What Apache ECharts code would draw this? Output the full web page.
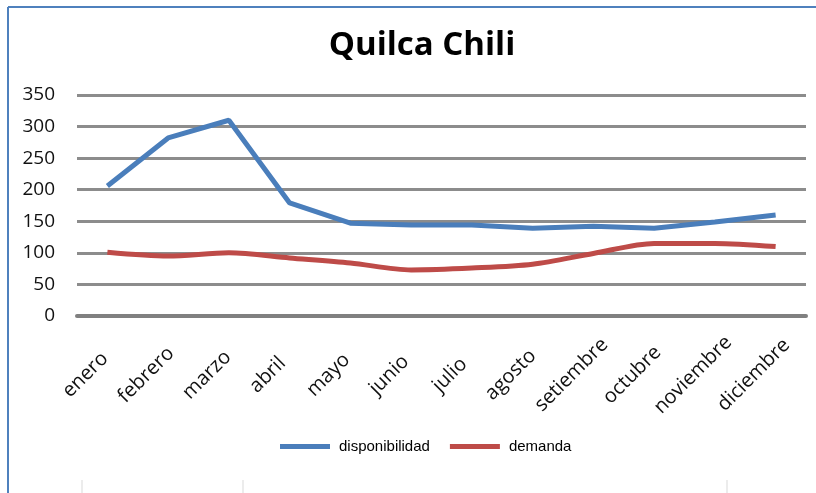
<!DOCTYPE html>
<html><head><meta charset="utf-8">
<script src="https://cdn.jsdelivr.net/npm/echarts@6/dist/echarts.min.js"></script>
<style>html,body{margin:0;padding:0;background:#fff}#c{width:816px;height:493px}</style>
</head><body><div id="c"></div>
<script>
const categories = ['enero','febrero','marzo','abril','mayo','junio','julio','agosto','setiembre','octubre','noviembre','diciembre'];
const disponibilidad = [206, 282, 310, 179, 147, 144, 144, 139, 142, 139, 149, 160];
const demanda = [101, 95, 100, 92, 84, 73, 76, 82, 99, 115, 115, 110];
const yTicks = [0, 50, 100, 150, 200, 250, 300, 350];

const chart = echarts.init(document.getElementById('c'), null, {renderer:'canvas'});
chart.setOption({
  animation: false,
  backgroundColor: '#fff',
  title: {
    text: 'Quilca Chili', left: 417, top: 24, textAlign: 'center',
    textStyle: {fontFamily: 'Open Sans', fontWeight: 'bold', fontSize: 33, color: '#000'}
  },
  graphic: [
    {type:'line', shape:{x1:8,y1:7,x2:816,y2:7}, style:{stroke:'#4f81bd', lineWidth:2}},
    {type:'line', shape:{x1:8,y1:7,x2:8,y2:493}, style:{stroke:'#4f81bd', lineWidth:2}},
    {type:'line', shape:{x1:82,y1:480,x2:82,y2:493}, style:{stroke:'#d9d9d9', lineWidth:1}},
    {type:'line', shape:{x1:243,y1:480,x2:243,y2:493}, style:{stroke:'#d9d9d9', lineWidth:1}},
    {type:'line', shape:{x1:727,y1:480,x2:727,y2:493}, style:{stroke:'#d9d9d9', lineWidth:1}}
  ],
  legend: {
    data: ['disponibilidad','demanda'],
    left: 275, top: 434,
    itemWidth: 50, itemHeight: 5, itemGap: 20,
    icon: 'rect',
    textStyle: {fontFamily: 'Liberation Sans', fontSize: 15, color: '#000', padding:[0,0,0,4]}
  },
  grid: {left: 77, right: 10, top: 95, bottom: 177},
  xAxis: {
    type: 'category', data: categories, boundaryGap: true,
    axisLine: {lineStyle: {color: '#808080', width: 4}},
    axisTick: {show: false},
    axisLabel: {rotate: 45, align: 'center', verticalAlign: 'middle', padding: [0, 62, 0, 0],
      fontFamily: 'Open Sans', fontSize: 20, color: '#111', margin: 37, interval: 0}
  },
  yAxis: {
    type: 'value', min: yTicks[0], max: yTicks[yTicks.length-1], interval: 50,
    axisLine: {show: false}, axisTick: {show: false},
    axisLabel: {fontFamily: 'Open Sans', fontSize: 19, color: '#111', margin: 22},
    splitLine: {lineStyle: {color: '#8c8c8c', width: 3}}
  },
  series: [
    {name:'disponibilidad', type:'line', data: disponibilidad, symbol:'none',
     lineStyle:{color:'#4a7ebb', width:5}, itemStyle:{color:'#4a7ebb'}},
    {name:'demanda', type:'line', data: demanda, symbol:'none', smooth: 0.3,
     lineStyle:{color:'#be4b48', width:5}, itemStyle:{color:'#be4b48'}}
  ]
});
</script></body></html>
